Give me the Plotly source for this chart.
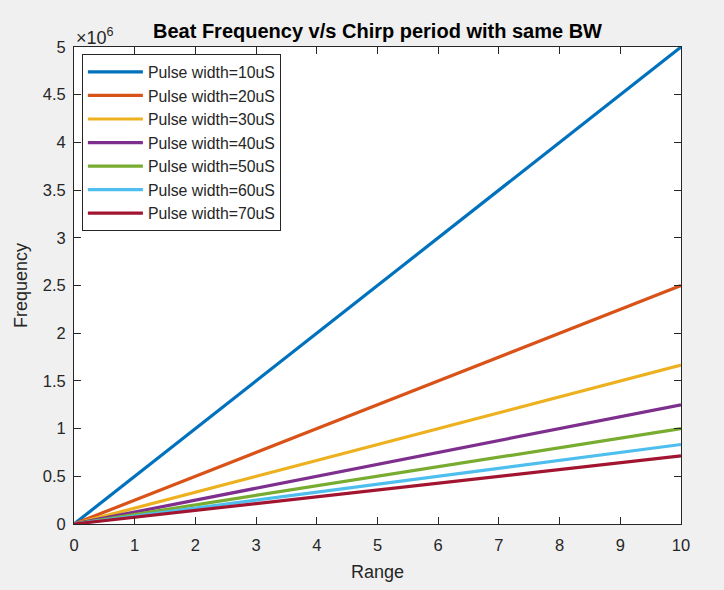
import plotly.graph_objects as go

# Data
pulse_widths = ["10uS", "20uS", "30uS", "40uS", "50uS", "60uS", "70uS"]
range_x = [0, 10]
end_freq = [5.0e6, 2.5e6, 1.6667e6, 1.25e6, 1.0e6, 0.8333e6, 0.7143e6]
colors = ["#0072BD", "#D95319", "#EDB120", "#7E2F8E", "#77AC30", "#4DBEEE", "#A2142F"]
x_ticks = list(range(0, 11))
y_tickvals = [i * 0.5e6 for i in range(11)]
y_ticktext = ["0", "0.5", "1", "1.5", "2", "2.5", "3", "3.5", "4", "4.5", "5"]

font_family = "Liberation Sans, Arial, sans-serif"
fig = go.Figure()
for pw, yend, c in zip(pulse_widths, end_freq, colors):
    fig.add_trace(go.Scatter(
        x=range_x, y=[0, yend], mode="lines",
        line=dict(color=c, width=3.2),
        name=f"Pulse width={pw}",
    ))

axis_common = dict(
    showline=True, linecolor="#262626", linewidth=1, mirror="ticks",
    ticks="inside", ticklen=7, tickcolor="#262626", showgrid=False, zeroline=False,
    tickfont=dict(family=font_family, size=16.5, color="#262626"),
)
fig.update_xaxes(range=[0, 10], tickvals=x_ticks, ticklabelstandoff=6,
                 title=dict(text="Range", font=dict(family=font_family, size=18, color="#262626"), standoff=12),
                 **axis_common)
fig.update_yaxes(range=[0, 5e6], tickvals=y_tickvals, ticktext=y_ticktext, ticklabelstandoff=4,
                 title=dict(text="Frequency", font=dict(family=font_family, size=18, color="#262626"), standoff=10),
                 **axis_common)

fig.update_layout(
    width=724, height=590,
    margin=dict(l=74, r=43, t=47, b=66),
    paper_bgcolor="#f0f0f0", plot_bgcolor="white",
    title=dict(text="<b>Beat Frequency v/s Chirp period with same BW</b>",
               x=(74 + 607 / 2) / 724, xanchor="center", y=1 - 31 / 590, yanchor="middle",
               font=dict(family=font_family, size=20, color="black")),
    legend=dict(x=0.013, y=0.985, xanchor="left", yanchor="top",
                bgcolor="white", bordercolor="#262626", borderwidth=1,
                itemwidth=55, tracegroupgap=0,
                font=dict(family=font_family, size=15.8, color="#262626")),
    annotations=[dict(text="×10<sup>6</sup>", xref="paper", yref="paper", x=0.0, y=1.0,
                      xanchor="left", yanchor="bottom", showarrow=False, yshift=-3,
                      font=dict(family=font_family, size=18, color="#262626"))],
)
fig.write_html("out.html")
